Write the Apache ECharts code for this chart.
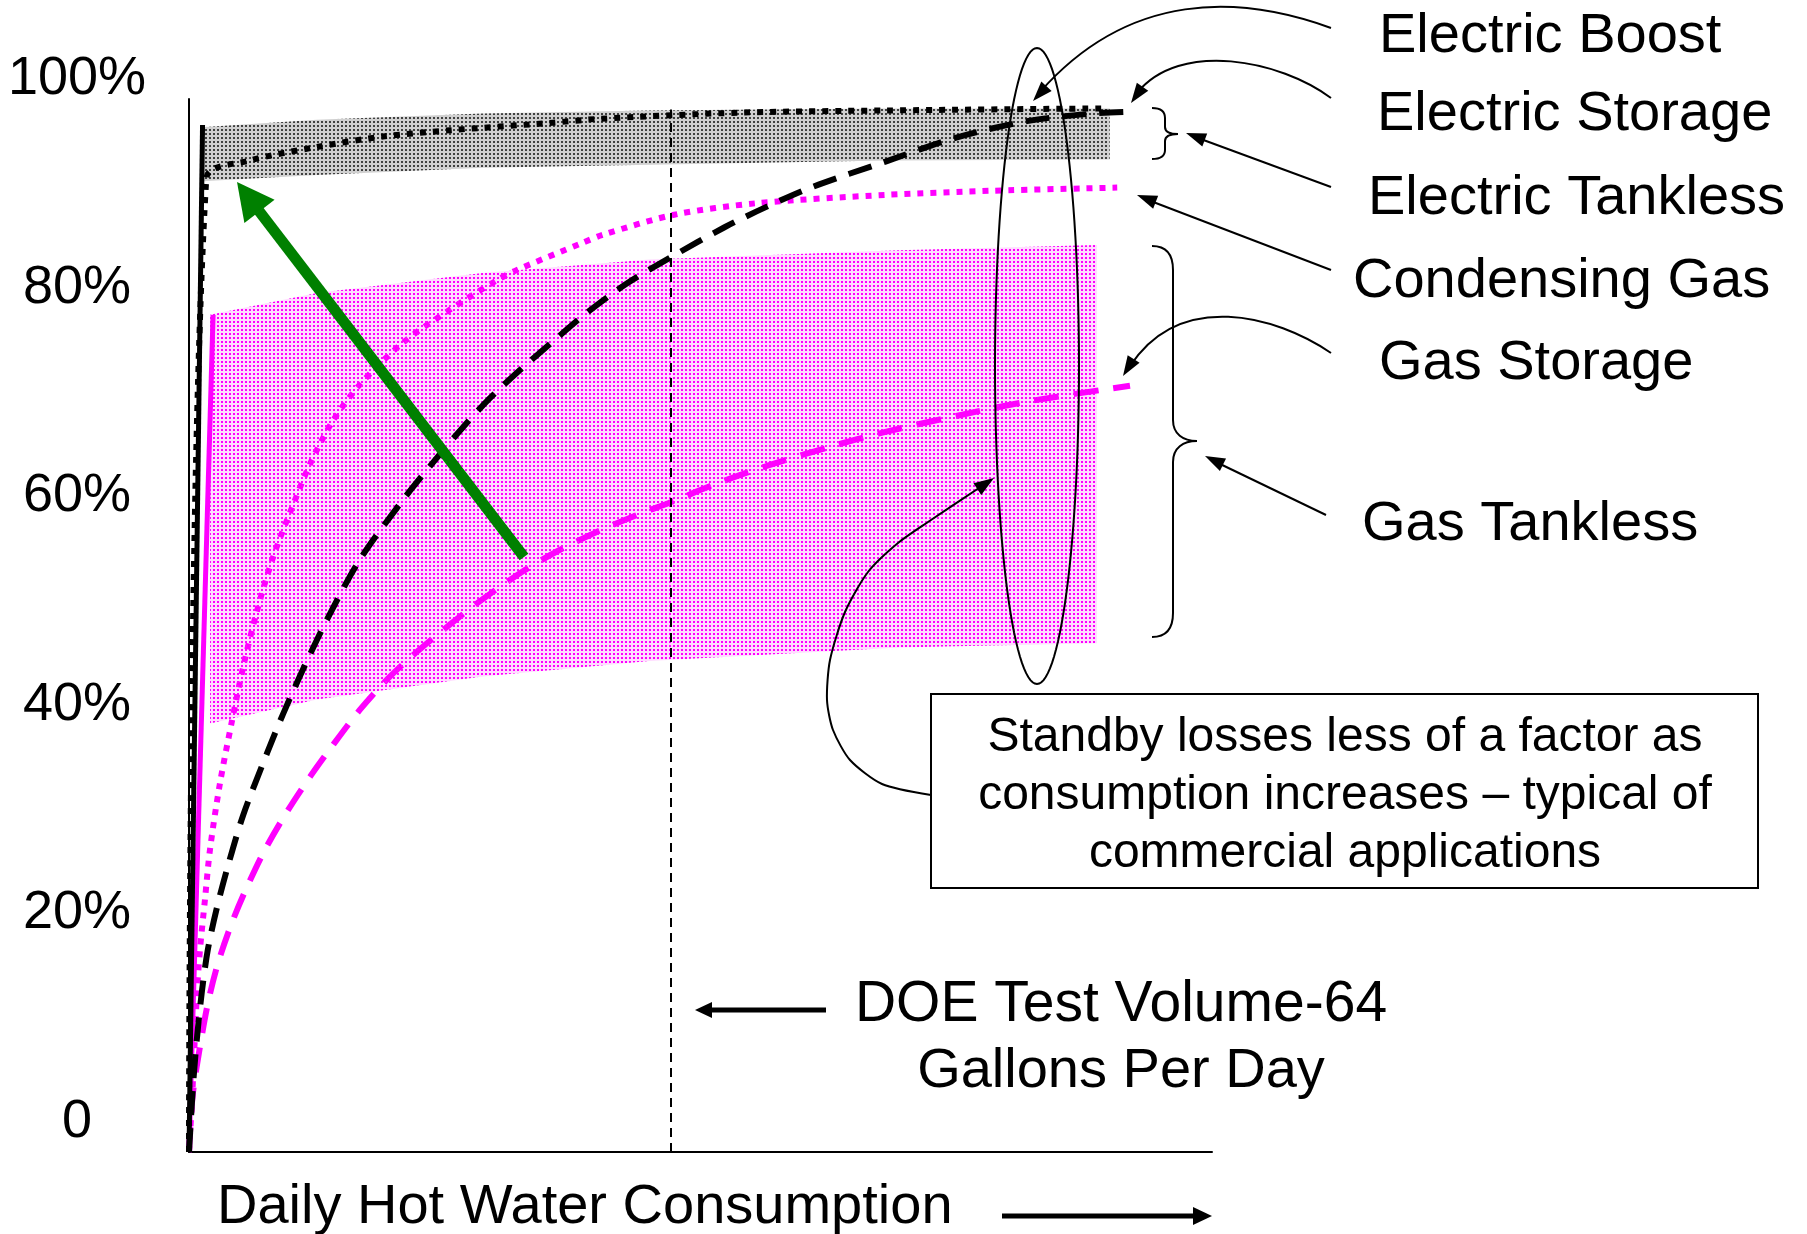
<!DOCTYPE html>
<html>
<head>
<meta charset="utf-8">
<title>Water heater efficiency vs daily hot water consumption</title>
<script src="https://cdn.jsdelivr.net/npm/echarts@6/dist/echarts.min.js"></script>
<style>
    html, body { margin: 0; padding: 0; background: #fff; }
    #chart { width: 1807px; height: 1234px; }
</style>
</head>
<body>
<div id="chart"></div>
<script>
// Water heater efficiency (%) against daily hot water consumption (gallons/day)

const doeVolume = 64

// Electric Boost (black dotted)
const electricBoostX = [0, 2.3, 8.1, 17.0, 25.8, 34.7, 47.9, 54.6, 73.6, 92.6, 121.5]
const electricBoostY = [0, 93.4, 95.1, 96.4, 97.4, 98.0, 98.7, 99.1, 99.7, 99.9, 100.1]

// Electric Storage (black dashed)
const electricStorageX = [0, 0.5, 1.0, 1.7, 2.5, 3.7, 5.2, 7.2, 10.4, 12.5, 15.1, 18.3, 22.7, 28.4, 32.4, 36.4, 40.0, 44.0, 48.3, 52.9, 58.2, 64.0, 71.2, 76.9, 83.0, 92.6, 102.0, 111.6, 120.1, 125.9]
const electricStorageY = [0, 6.0, 10.5, 15.3, 19.4, 23.4, 27.5, 32.3, 38.3, 42.0, 46.2, 51.0, 56.8, 62.5, 66.1, 69.5, 72.3, 75.0, 77.7, 80.5, 83.3, 85.8, 88.7, 90.7, 92.6, 95.0, 97.3, 98.9, 99.6, 99.8]

// Electric Tankless (black solid line + grey range)
const electricTanklessX = [0, 1.8]
const electricTanklessY = [0, 98.5]
const electricBandX = [1.7, 17.0, 39.0, 61.2, 92.6, 122.4]
const electricBandLow = [93.1, 93.7, 94.4, 94.7, 95.1, 95.2]
const electricBandHigh = [98.3, 99.0, 99.6, 99.9, 100.1, 100.1]

// Condensing Gas (magenta dotted)
const condensingGasX = [0, 0.4, 1.06, 1.46, 2.12, 2.79, 4.1, 5.7, 7.2, 9.0, 11.2, 13.8, 16.1, 19.1, 22.7, 28.4, 34.7, 40.9, 43.6, 52.3, 55.1, 64.5, 75.4, 92.6, 106.8, 123.4]
const condensingGasY = [0, 5.0, 15.3, 19.4, 24.2, 29.0, 35.3, 41.3, 46.5, 51.8, 57.1, 62.0, 66.0, 70.1, 73.6, 77.6, 80.8, 83.6, 84.6, 87.2, 88.0, 89.9, 91.0, 91.8, 92.2, 92.5]

// Gas Storage (magenta dashed)
const gasStorageX = [0, 0.13, 0.53, 1.46, 2.52, 3.85, 5.71, 7.7, 10.1, 13.0, 16.1, 19.1, 22.7, 26.3, 29.7, 34.7, 39.0, 44.4, 48.9, 54.6, 59.9, 64.3, 70.1, 76.8, 85.5, 92.2, 102.0, 111.6, 125.1]
const gasStorageY = [0, 1.8, 5.7, 10.1, 14.3, 18.1, 22.0, 25.4, 29.0, 32.6, 36.0, 39.0, 42.4, 45.3, 47.6, 50.6, 53.0, 55.7, 57.6, 59.6, 61.2, 62.4, 64.1, 65.8, 67.7, 69.0, 70.6, 72.0, 73.5]

// Gas Tankless (magenta solid line + pink range)
const gasTanklessX = [0, 3.2]
const gasTanklessY = [0, 80.3]
const gasBandX = [2.8, 17.0, 39.0, 61.2, 94.4, 120.7]
const gasBandLow = [41.1, 43.4, 45.6, 47.1, 48.4, 48.8]
const gasBandHigh = [80.3, 82.4, 84.3, 85.6, 86.5, 87.0]

const FONT = '"Liberation Sans", Arial, sans-serif'
const MAGENTA = '#ff00ff'

function zip(xs, ys) {
    return xs.map((x, i) => [x, ys[i]])
}

// small dotted tile used to fill the two ranges
function dotPattern(bg, dot) {
    const c = document.createElement("canvas")
    c.width = 4
    c.height = 4
    const ctx = c.getContext("2d")
    ctx.fillStyle = bg
    ctx.fillRect(0, 0, 4, 4)
    ctx.fillStyle = dot
    ctx.fillRect(1, 1, 2, 2)
    return { image: c, repeat: "repeat" }
}

function band(name, xs, low, high, fill) {
    return {
        name: name,
        type: "custom",
        coordinateSystem: "cartesian2d",
        silent: true,
        z: 1,
        data: [[xs[0], low[0]]],
        renderItem: (params, api) => {
            const pts = xs.map((x, i) => api.coord([x, high[i]]))
            for (let i = xs.length - 1; i >= 0; i--) pts.push(api.coord([xs[i], low[i]]))
            return { type: "polygon", shape: { points: pts }, style: { fill: fill } }
        },
    }
}

function curve(name, xs, ys, color, width, dash) {
    return {
        name: name,
        type: "line",
        data: zip(xs, ys),
        showSymbol: false,
        symbol: "none",
        smooth: 0.3,
        clip: false,
        z: 3,
        lineStyle: { color: color, width: width, type: dash || "solid" },
    }
}

function arrowHead(tip, from, len, half, color) {
    const dx = tip[0] - from[0]
    const dy = tip[1] - from[1]
    const d = Math.hypot(dx, dy)
    const ux = dx / d
    const uy = dy / d
    const bx = tip[0] - ux * len
    const by = tip[1] - uy * len
    return {
        type: "polygon",
        z: 100,
        shape: { points: [tip, [bx - uy * half, by + ux * half], [bx + uy * half, by - ux * half]] },
        style: { fill: color },
    }
}

function line(p1, p2, width, color) {
    return {
        type: "line",
        z: 100,
        shape: { x1: p1[0], y1: p1[1], x2: p2[0], y2: p2[1] },
        style: { stroke: color || "#000", lineWidth: width },
    }
}

function bezier(p0, c1, c2, p3, width) {
    return {
        type: "bezierCurve",
        z: 100,
        shape: { x1: p0[0], y1: p0[1], cpx1: c1[0], cpy1: c1[1], cpx2: c2[0], cpy2: c2[1], x2: p3[0], y2: p3[1] },
        style: { stroke: "#000", lineWidth: width, fill: null },
    }
}

function label(text, x, y, size, align) {
    return {
        type: "text",
        z: 100,
        style: {
            text: text,
            x: x,
            y: y,
            font: size + "px " + FONT,
            fill: "#000",
            textAlign: align || "left",
            align: align || "left",
            textVerticalAlign: "middle",
            verticalAlign: "middle",
        },
    }
}

function ellipse(cx, cy, rx, ry) {
    const pts = []
    for (let i = 0; i < 120; i++) {
        const a = (i / 120) * Math.PI * 2
        pts.push([cx + rx * Math.cos(a), cy + ry * Math.sin(a)])
    }
    return { type: "polygon", z: 100, shape: { points: pts }, style: { fill: null, stroke: "#000", lineWidth: 2 } }
}

// annotations (pixel positions)
const graphics = [
    // green trend arrow
    line([524, 557], [259, 211], 11, "#008000"),
    arrowHead([237, 182], [524, 557], 37, 19, "#008000"),

    // DOE arrow and x-axis arrow
    line([826, 1010], [708, 1010], 5),
    arrowHead([695, 1010], [826, 1010], 17, 8, "#000"),
    line([1002, 1216], [1196, 1216], 5),
    arrowHead([1212, 1216], [1002, 1216], 19, 9, "#000"),

    // ellipse around the right hand side
    ellipse(1037, 366, 42, 318),

    // small brace (Electric Tankless range)
    bezier([1152, 108], [1161, 108], [1165, 111], [1165, 118], 2),
    line([1165, 118], [1165, 127], 2),
    bezier([1165, 127], [1165, 132], [1171, 134], [1178, 134], 2),
    bezier([1178, 134], [1171, 134], [1165, 136], [1165, 141], 2),
    line([1165, 141], [1165, 150], 2),
    bezier([1165, 150], [1165, 156], [1161, 159], [1152, 159], 2),

    // big brace (Gas Tankless range)
    bezier([1152, 246], [1166, 246], [1173, 254], [1173, 270], 2),
    line([1173, 270], [1173, 420], 2),
    bezier([1173, 420], [1173, 434], [1183, 441], [1197, 441], 2),
    bezier([1197, 441], [1183, 441], [1173, 448], [1173, 462], 2),
    line([1173, 462], [1173, 613], 2),
    bezier([1173, 613], [1173, 629], [1166, 637], [1152, 637], 2),

    // callout arrows
    bezier([1331, 28], [1240, -5], [1130, -10], [1040, 92], 2),
    arrowHead([1033, 101], [1075, 55], 20, 7, "#000"),
    bezier([1331, 98], [1280, 60], [1180, 40], [1137, 93], 2),
    arrowHead([1131, 103], [1160, 62], 20, 7, "#000"),
    line([1331, 187], [1198, 138], 2),
    arrowHead([1186, 133], [1331, 187], 20, 7, "#000"),
    line([1331, 270], [1148, 200], 2),
    arrowHead([1137, 195], [1331, 270], 20, 7, "#000"),
    bezier([1331, 353], [1275, 315], [1180, 290], [1130, 366], 2),
    arrowHead([1123, 376], [1155, 325], 20, 7, "#000"),
    line([1326, 515], [1216, 462], 2),
    arrowHead([1205, 456], [1326, 515], 20, 7, "#000"),

    // connector from the note to the ellipse
    {
        type: "polyline",
        z: 100,
        shape: {
            points: [[931, 795], [882, 784], [850, 760], [833, 730], [827, 700], [830, 660], [845, 612], [868, 572], [898, 543], [928, 522], [982, 486]],
            smooth: 0.25,
        },
        style: { stroke: "#000", lineWidth: 2, fill: null },
    },
    arrowHead([994, 478], [940, 514], 20, 7, "#000"),

    // note box
    {
        type: "rect",
        z: 99,
        shape: { x: 931, y: 694, width: 827, height: 194 },
        style: { fill: "#fff", stroke: "#000", lineWidth: 2 },
    },
    label("Standby losses less of a factor as", 1345, 738, 48, "center"),
    label("consumption increases \u2013 typical of", 1345, 796, 48, "center"),
    label("commercial applications", 1345, 854, 48, "center"),

    // series names on the right
    label("Electric Boost", 1379, 37, 56),
    label("Electric Storage", 1377, 115, 56),
    label("Electric Tankless", 1368, 199, 56),
    label("Condensing Gas", 1353, 282, 56),
    label("Gas Storage", 1379, 364, 56),
    label("Gas Tankless", 1362, 525, 56),

    // DOE note and axis title
    label("DOE Test Volume-64", 1121, 1005, 57, "center"),
    label("Gallons Per Day", 1121, 1072, 56, "center"),
    label("Daily Hot Water Consumption", 217, 1208, 56),
]

const chart = echarts.init(document.getElementById("chart"))

const gasStorage = curve("Gas Storage", gasStorageX, gasStorageY, MAGENTA, 6, [25, 15])
gasStorage.markLine = {
    silent: true,
    symbol: "none",
    label: { show: false },
    lineStyle: { color: "#000", width: 2, type: [9, 6] },
    data: [[{ coord: [doeVolume, 0] }, { coord: [doeVolume, 100] }]],
}

const option = {
    animation: false,
    backgroundColor: "#fff",
    grid: { left: 189, right: 595, top: 99, bottom: 82 },
    xAxis: {
        type: "value",
        min: 0,
        max: 136,
        axisLine: { show: true, onZero: false, lineStyle: { color: "#000", width: 2 } },
        axisTick: { show: false },
        axisLabel: { show: false },
        splitLine: { show: false },
    },
    yAxis: {
        type: "value",
        min: 0,
        max: 101,
        interval: 20,
        axisLine: { show: true, lineStyle: { color: "#000", width: 2 } },
        axisTick: { show: false },
        splitLine: { show: false },
        axisLabel: {
            color: "#000",
            fontSize: 54,
            fontFamily: FONT,
            align: "center",
            verticalAlign: "bottom",
            lineHeight: 60,
            margin: 112,
            formatter: (v) => (v % 20 !== 0 ? "" : v === 0 ? "0" : v + "%"),
        },
    },
    series: [
        band("Electric Tankless range", electricBandX, electricBandLow, electricBandHigh, dotPattern("#d0d0d0", "#404040")),
        band("Gas Tankless range", gasBandX, gasBandLow, gasBandHigh, dotPattern("#ffdcff", "#ff00ff")),
        gasStorage,
        curve("Condensing Gas", condensingGasX, condensingGasY, MAGENTA, 6, [6, 7]),
        curve("Gas Tankless", gasTanklessX, gasTanklessY, MAGENTA, 5),
        curve("Electric Storage", electricStorageX, electricStorageY, "#000", 6, [24, 13]),
        curve("Electric Boost", electricBoostX, electricBoostY, "#000", 6, [6, 7]),
        curve("Electric Tankless", electricTanklessX, electricTanklessY, "#000", 5),
    ],
    graphic: graphics,
}

chart.setOption(option)

window.addEventListener("resize", () => {
    chart.resize()
})
</script>
</body>
</html>
